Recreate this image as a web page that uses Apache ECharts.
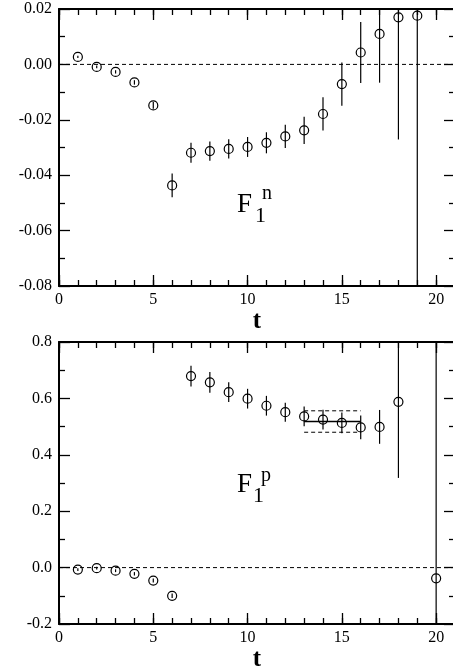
<!DOCTYPE html>
<html>
<head>
<meta charset="utf-8">
<script src="https://cdn.jsdelivr.net/npm/echarts@6.0.0/dist/echarts.min.js"></script>
<style>
  html, body { margin: 0; padding: 0; background: #fff; }
  #chart { width: 453px; height: 666px; }
</style>
</head>
<body>
<div id="chart"></div>
<script>
// top panel: F1^n vs t
var tN = [1, 2, 3, 4, 5, 6, 7, 8, 9, 10, 11, 12, 13, 14, 15, 16, 17, 18, 19];
var f1n = [0.0027, -0.0009, -0.0027, -0.0065, -0.0148, -0.0437, -0.0319, -0.0313, -0.0305, -0.0298,
           -0.0283, -0.0260, -0.0238, -0.0179, -0.0071, 0.0043, 0.0110, 0.0170, 0.0176];
var f1nErr = [0.0004, 0.0005, 0.0006, 0.0008, 0.0012, 0.0043, 0.0036, 0.0035, 0.0035, 0.0036,
              0.0038, 0.0042, 0.0049, 0.0060, 0.0078, 0.0110, 0.0176, 0.0441, 0.12];

// bottom panel: F1^p vs t
var tP = [1, 2, 3, 4, 5, 6, 7, 8, 9, 10, 11, 12, 13, 14, 15, 16, 17, 18, 20];
var f1p = [-0.007, -0.002, -0.011, -0.022, -0.046, -0.100, 0.679, 0.657, 0.622, 0.599,
           0.574, 0.551, 0.536, 0.525, 0.513, 0.497, 0.499, 0.588, -0.038];
var f1pErr = [0.005, 0.005, 0.005, 0.006, 0.007, 0.008, 0.037, 0.037, 0.035, 0.035,
              0.035, 0.034, 0.035, 0.035, 0.037, 0.042, 0.060, 0.27, 1.2];

// plateau fit for F1^p
var fitRange = [13, 16];
var fitValue = 0.518;
var fitErr = 0.038;

var xTicksMajor = 5;
var xTicksMinor = 1;
var xRange = [0, 21];
var yRangeN = [-0.08, 0.02];
var yRangeP = [-0.2, 0.8];

var serif = "Liberation Serif";

function xAxes(grid) {
  var list = [];
  ["bottom", "top"].forEach(function (pos) {
    list.push({
      type: "value", gridIndex: grid, position: pos,
      min: xRange[0], max: xRange[1], interval: xTicksMajor,
      axisLine: { show: true, onZero: false, lineStyle: { color: "#000", width: 2 } },
      axisTick: { show: true, inside: true, length: 11, lineStyle: { color: "#000", width: 1.3 } },
      axisLabel: {
        show: pos === "bottom", showMaxLabel: false, margin: 6,
        color: "#000", fontFamily: serif, fontSize: 16
      },
      splitLine: { show: false },
      name: pos === "bottom" ? "t" : "",
      nameLocation: "middle", nameGap: 20,
      nameTextStyle: { color: "#000", fontFamily: serif, fontSize: 25, fontWeight: "bold" }
    });
    list.push({
      type: "value", gridIndex: grid, position: pos,
      min: xRange[0], max: xRange[1], interval: xTicksMinor,
      axisLine: { show: false, onZero: false },
      axisTick: { show: true, inside: true, length: 6, lineStyle: { color: "#000", width: 1.3 } },
      axisLabel: { show: false },
      splitLine: { show: false }
    });
  });
  return list;
}

function yAxes(grid, range, step, digits) {
  return ["left", "right"].map(function (pos) {
    return {
      type: "value", gridIndex: grid, position: pos,
      min: range[0], max: range[1], interval: step,
      axisLine: { show: true, onZero: false, lineStyle: { color: "#000", width: 2 } },
      axisTick: { show: true, inside: true, length: 11, lineStyle: { color: "#000", width: 1.3 } },
      minorTick: { show: true, splitNumber: 2, length: 6, lineStyle: { color: "#000", width: 1.3 } },
      axisLabel: {
        show: pos === "left", margin: 7, color: "#000", fontFamily: serif, fontSize: 16,
        formatter: function (v) {
          if (Math.abs(v) < 1e-9) v = 0;
          return v.toFixed(digits);
        }
      },
      splitLine: { show: false }
    };
  });
}

function errorBars(xs, ys, es, xi, yi) {
  return {
    type: "custom", xAxisIndex: xi, yAxisIndex: yi, z: 3,
    data: xs.map(function (x, i) { return [x, ys[i], es[i]]; }),
    renderItem: function (params, api) {
      var x = api.value(0), v = api.value(1), e = api.value(2);
      var hi = api.coord([x, v + e]);
      var lo = api.coord([x, v - e]);
      var cs = params.coordSys;
      var top = Math.max(hi[1], cs.y);
      var bot = Math.min(lo[1], cs.y + cs.height);
      return {
        type: "line",
        shape: { x1: hi[0], y1: top, x2: lo[0], y2: bot },
        style: { stroke: "#000", lineWidth: 1.2 }
      };
    }
  };
}

function points(xs, ys, xi, yi) {
  return {
    type: "scatter", xAxisIndex: xi, yAxisIndex: yi, z: 4,
    symbol: "circle", symbolSize: 9,
    itemStyle: { color: "rgba(0,0,0,0)", borderColor: "#000", borderWidth: 1.2, opacity: 1 },
    emphasis: { disabled: true },
    data: xs.map(function (x, i) { return [x, ys[i]]; })
  };
}

function hLine(x0, x1, y, xi, yi, type, width) {
  return {
    type: "line", xAxisIndex: xi, yAxisIndex: yi, z: 2,
    symbol: "none", silent: true,
    lineStyle: { color: "#000", width: width, type: type },
    data: [[x0, y], [x1, y]]
  };
}

var chart = echarts.init(document.getElementById("chart"));
chart.setOption({
  animation: false,
  backgroundColor: "#fff",
  grid: [
    { left: 59, top: 9, width: 396, height: 277, containLabel: false, outerBoundsMode: "none" },
    { left: 59, top: 342, width: 396, height: 282, containLabel: false, outerBoundsMode: "none" }
  ],
  xAxis: xAxes(0).concat(xAxes(1)),
  yAxis: yAxes(0, yRangeN, 0.02, 2).concat(yAxes(1, yRangeP, 0.2, 1)),
  graphic: [
    { type: "text", left: 237, top: 191, style: { text: "F", font: "27px " + serif, fill: "#000" } },
    { type: "text", left: 255, top: 205, style: { text: "1", font: "22px " + serif, fill: "#000" } },
    { type: "text", left: 262, top: 184, style: { text: "n", font: "20px " + serif, fill: "#000" } },
    { type: "text", left: 237, top: 471, style: { text: "F", font: "27px " + serif, fill: "#000" } },
    { type: "text", left: 253, top: 485, style: { text: "1", font: "22px " + serif, fill: "#000" } },
    { type: "text", left: 261, top: 466, style: { text: "p", font: "20px " + serif, fill: "#000" } }
  ],
  series: [
    hLine(xRange[0], xRange[1], 0, 0, 0, [4, 3], 1),
    errorBars(tN, f1n, f1nErr, 0, 0),
    points(tN, f1n, 0, 0),
    hLine(xRange[0], xRange[1], 0, 4, 2, [4, 3], 1),
    hLine(fitRange[0], fitRange[1], fitValue, 4, 2, "solid", 1.5),
    hLine(fitRange[0], fitRange[1], fitValue + fitErr, 4, 2, [4, 3], 1),
    hLine(fitRange[0], fitRange[1], fitValue - fitErr, 4, 2, [4, 3], 1),
    errorBars(tP, f1p, f1pErr, 4, 2),
    points(tP, f1p, 4, 2)
  ]
});
</script>
</body>
</html>
